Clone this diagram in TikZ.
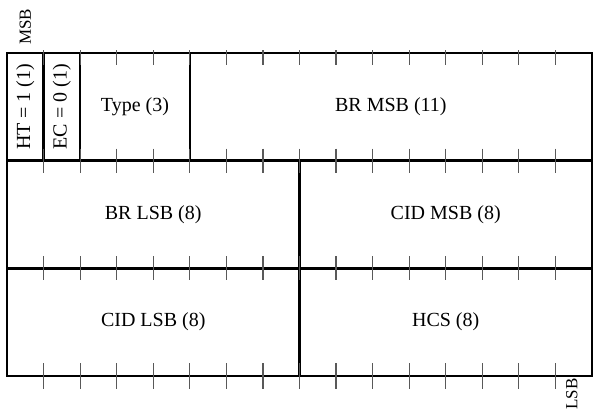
\documentclass[tikz,border=0pt]{standalone}
\usepackage{fontspec}
\setmainfont{Liberation Serif}
\usetikzlibrary{positioning, calc}

\begin{document}
\begin{tikzpicture}[
    x=18.28pt, y=53.83pt,
    field/.style={draw, line width=1.2pt, inner sep=0pt, outer sep=0pt, minimum width=#1*18.28pt, minimum height=53.83pt, align=center, font=\fontsize{10}{12}\selectfont},
    tick/.style={gray!70!black, line width=0.6pt},
    endlabel/.style={rotate=90, inner sep=0pt, font=\fontsize{8.5}{10}\selectfont}
]
    \useasboundingbox (-3.5pt,-20.5pt) rectangle (293pt,188pt);

    % Nodes
    \node[field=1] (ht) at (0.5,2.5) {\rotatebox{90}{HT = 1 (1)}};
    \node[field=1] (ec) at (1.5,2.5) {\rotatebox{90}{EC = 0 (1)}};
    \node[field=3] (type) at (3.5,2.5) {Type (3)};
    \node[field=11] (brmsb) at (10.5,2.5) {BR MSB (11)};
    \node[field=8] (brlsb) at (4,1.5) {BR LSB (8)};
    \node[field=8] (cidmsb) at (12,1.5) {CID MSB (8)};
    \node[field=8] (cidlsb) at (4,0.5) {CID LSB (8)};
    \node[field=8] (hcs) at (12,0.5) {HCS (8)};

    \node[endlabel, anchor=west] (msb) at ($(ht.north)+(0,4pt)$) {MSB};
    \node[endlabel, anchor=east] (lsb) at ($(hcs.south east)+(-0.55,-1pt)$) {LSB};

    % Bit ticks
    \foreach \k in {1,...,15} {
        \draw[tick] (\k,3) ++(0,1.5pt) -- ++(0,-7.5pt);
        \draw[tick] (\k,2) ++(0,6pt) -- ++(0,-12pt);
        \draw[tick] (\k,1) ++(0,6pt) -- ++(0,-12pt);
        \draw[tick] (\k,0) ++(0,6.5pt) -- ++(0,-13pt);
    }
\end{tikzpicture}
\end{document}
